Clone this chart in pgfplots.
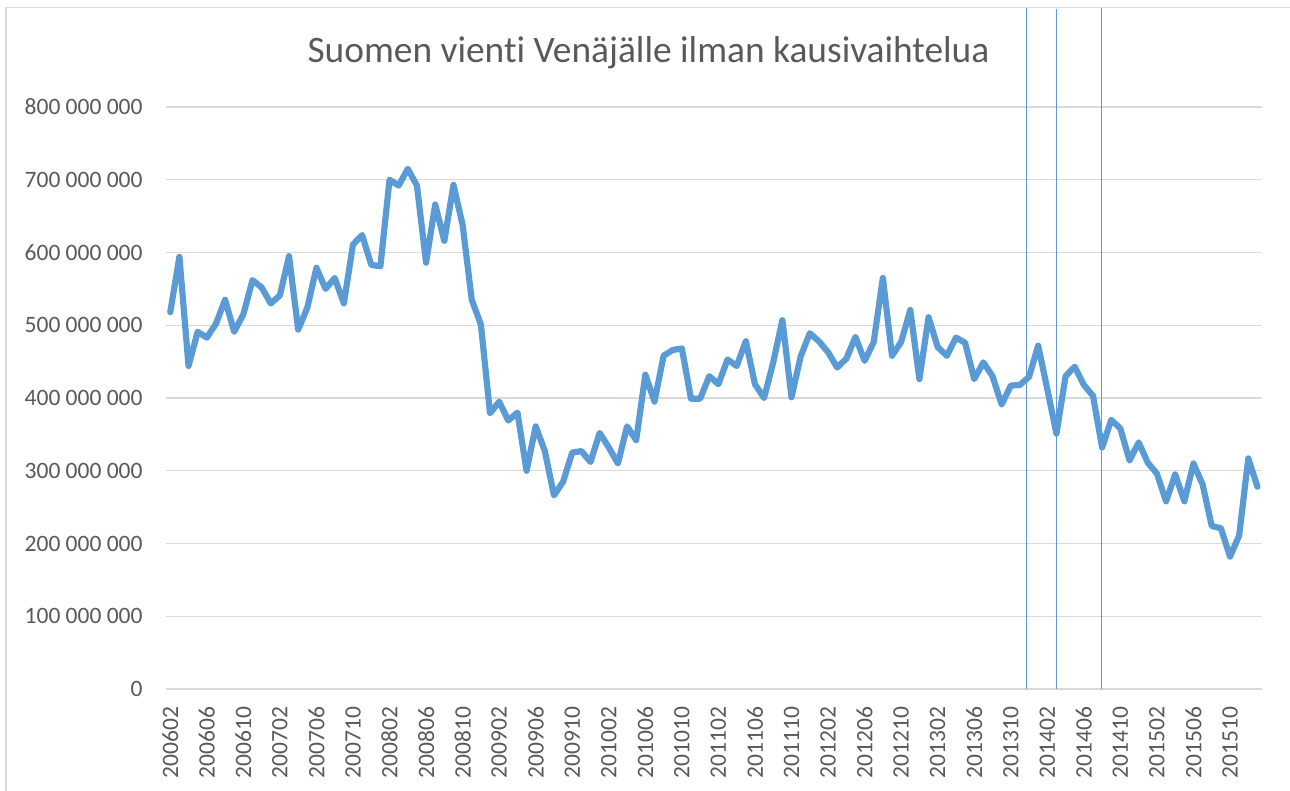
\documentclass[border=0pt]{standalone}
\usepackage{fontspec}
\setmainfont{Carlito}[Ligatures=NoCommon]
\usepackage{pgfplots}
\pgfplotsset{compat=1.18}
\definecolor{lineblue}{HTML}{5B9BD5}
\definecolor{txt}{HTML}{595959}
\definecolor{gridc}{HTML}{D9D9D9}
\begin{document}
\begin{tikzpicture}
\path[use as bounding box] (-165.7pt,-102pt) rectangle (1124.3pt,689pt);
\draw[gridc, line width=1.3pt] (-159.7pt,-120pt) rectangle (1140pt,681.7pt);
\begin{axis}[
  at={(0pt,0pt)}, anchor=south west, scale only axis,
  width=1096.3pt, height=582pt,
  xmin=-0.5, xmax=119.5, ymin=0, ymax=800,
  axis line style={draw=none},
  clip=false,
  ymajorgrids, grid style={gridc, line width=1.3pt},
  major tick length=0pt,
  ytick={0,100,...,800},
  yticklabels={0,100 000 000,200 000 000,300 000 000,400 000 000,500 000 000,600 000 000,700 000 000,800 000 000},
  xtick={0,4,...,116},
  xticklabels={200602,200606,200610,200702,200706,200710,200802,200806,200810,200902,200906,200910,201002,201006,201010,201102,201106,201110,201202,201206,201210,201302,201306,201310,201402,201406,201410,201502,201506,201510},
  tick label style={font=\fontsize{23.5}{24}\selectfont, text=txt, inner sep=0pt},
  yticklabel style={anchor=east, xshift=-23pt},
  xticklabel style={yshift=-17.7pt, rotate=90, anchor=east},
]
\addplot[lineblue, line width=1.2pt] coordinates {(93.7,0) (93.7,936)};
\addplot[lineblue, line width=1.2pt] coordinates {(97.0,0) (97.0,935)};
\addplot[lineblue, line width=1.2pt] coordinates {(101.9,0) (101.9,936)};
\addplot[lineblue, line width=6.2pt, line join=round, line cap=round, mark=none] table {
x y
0 518
1 594
2 444
3 491
4 483
5 502
6 535
7 491
8 515
9 562
10 552
11 530
12 541
13 595
14 494
15 524
16 579
17 550
18 565
19 530
20 611
21 624
22 583
23 581
24 700
25 692
26 715
27 692
28 586
29 666
30 616
31 693
32 638
33 535
34 501
35 379
36 395
37 369
38 380
39 300
40 361
41 327
42 266
43 285
44 325
45 327
46 312
47 352
48 332
49 310
50 361
51 342
52 432
53 395
54 458
55 466
56 468
57 399
58 399
59 430
60 419
61 453
62 444
63 478
64 419
65 400
66 449
67 507
68 401
69 457
70 489
71 478
72 463
73 442
74 454
75 484
76 451
77 477
78 565
79 458
80 477
81 521
82 426
83 511
84 470
85 458
86 483
87 476
88 426
89 449
90 430
91 391
92 417
93 418
94 429
95 472
96 412
97 351
98 430
99 443
100 418
101 403
102 332
103 370
104 358
105 314
106 339
107 311
108 296
109 258
110 295
111 258
112 310
113 281
114 224
115 221
116 182
117 211
118 317
119 278
};
\end{axis}
\node[anchor=base, font=\fontsize{37.4}{42}\selectfont, text=txt, inner sep=0pt] at (482.8pt,626.7pt) {Suomen vienti Venäjälle ilman kausivaihtelua};
\end{tikzpicture}
\end{document}
